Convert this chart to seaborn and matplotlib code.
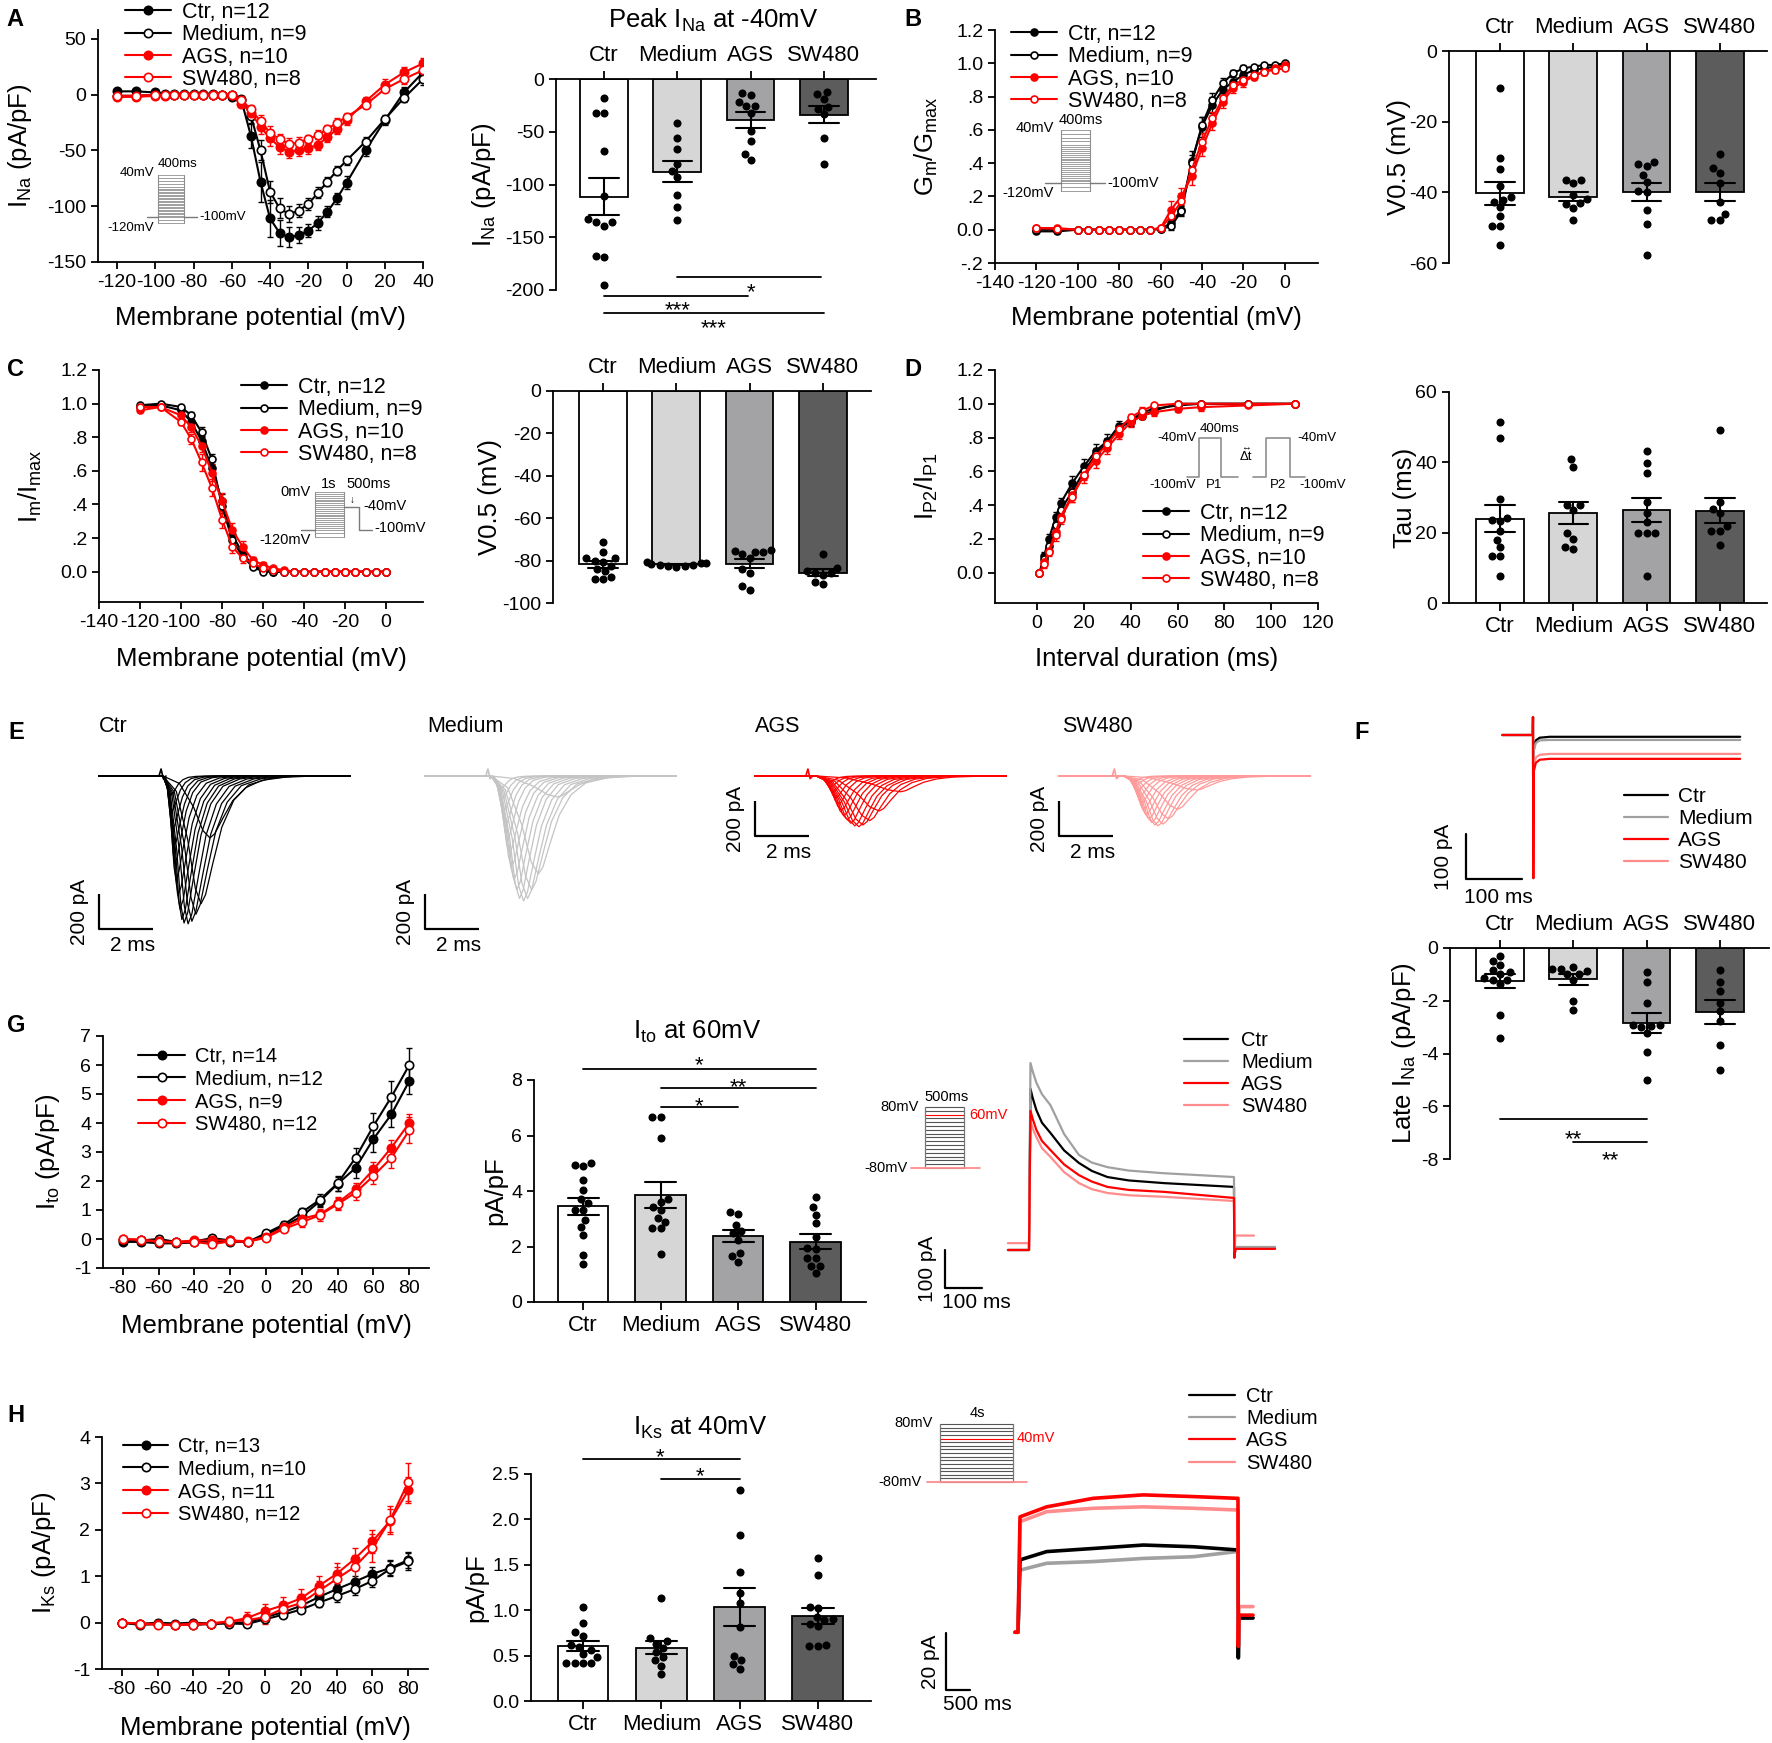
import numpy as np
import pandas as pd
import matplotlib
matplotlib.use("Agg")
import matplotlib.pyplot as plt
import seaborn as sns
from matplotlib.lines import Line2D
from matplotlib.transforms import blended_transform_factory

W, H = 1772, 1743

groups = ["Ctr", "Medium", "AGS", "SW480"]
bar_colors = ["#ffffff", "#d6d6d6", "#a3a3a6", "#5c5c5c"]
line_colors = {"Ctr": "black", "Medium": "black", "AGS": "#ff0000", "SW480": "#ff0000"}
marker_faces = {"Ctr": "black", "Medium": "white", "AGS": "#ff0000", "SW480": "white"}
trace_colors = {"Ctr": "black", "Medium": "#a0a0a0", "AGS": "#ff0000", "SW480": "#ff8c8c"}
E_colors = {"Ctr": "black", "Medium": "#c4c4c4", "AGS": "#ff0000", "SW480": "#ff9a9a"}

# ---------------- A: Na current I-V ----------------
A_v = [-120, -110, -100, -95, -90, -85, -80, -75, -70, -65, -60, -55, -50, -45,
       -40, -35, -30, -25, -20, -15, -10, -5, 0, 10, 20, 30, 40]
A_ctr = [3, 3, 2, 1, 1, 1, 1, 1, 1, 0, -2, -5, -37, -78, -111, -124, -128, -126,
         -122, -115, -105, -93, -79, -50, -23, 2, 20]
A_ctr_se = [2, 2, 1, 1, 1, 1, 1, 1, 1, 1, 2, 4, 11, 18, 17, 12, 9, 7, 6, 6, 5, 5, 6, 5, 4, 5, 5]
A_med = [-1, -1, 0, 0, 0, 0, 0, 0, 0, 0, 0, -4, -19, -50, -87, -102, -107, -104,
         -98, -88, -78, -68, -59, -42, -22, -3, 14]
A_med_se = [1, 1, 1, 1, 1, 1, 1, 1, 1, 1, 1, 3, 6, 9, 10, 9, 7, 6, 5, 5, 4, 4, 4, 4, 4, 4, 5]
A_ags = [-2, -2, -1, -1, 0, 0, 0, 0, 0, 0, 0, -8, -16, -29, -39, -47, -51, -50,
         -48, -45, -38, -31, -23, -6, 9, 20, 28]
A_ags_se = [1, 1, 1, 1, 1, 1, 1, 1, 1, 1, 1, 3, 4, 6, 7, 6, 6, 5, 5, 5, 4, 4, 4, 4, 5, 5, 5]
A_sw = [-1, -1, 0, 0, 0, 0, 0, 0, 0, 0, 0, -5, -13, -24, -34, -40, -44, -43,
        -40, -36, -31, -25, -20, -9, 5, 14, 22]
A_sw_se = [1, 1, 1, 1, 1, 1, 1, 1, 1, 1, 1, 3, 4, 6, 6, 5, 5, 5, 4, 4, 4, 4, 4, 3, 3, 4, 4]

peak_ctr = [-18, -32, -32, -68, -111, -133, -136, -136, -139, -168, -169, -195]
peak_med = [-42, -56, -66, -81, -87, -93, -110, -121, -134]
peak_ags = [-13, -15, -21.5, -25.5, -25.5, -32, -49, -59, -71, -77]
peak_sw = [-12, -14.5, -19, -26.5, -28, -33, -55.5, -81]

# ---------------- B: activation ----------------
B_v = [-120, -110, -100, -95, -90, -85, -80, -75, -70, -65, -60, -55, -50, -45,
       -40, -35, -30, -25, -20, -15, -10, -5, 0]
B_ctr = [-0.01, -0.01, 0, 0, 0, 0, 0, 0, 0, 0, 0.005, 0.04, 0.12, 0.41, 0.62, 0.75,
         0.84, 0.89, 0.93, 0.96, 0.97, 0.98, 0.99]
B_med = [0, 0, 0, 0, 0, 0, 0, 0, 0, 0, 0.005, 0.02, 0.11, 0.40, 0.63, 0.78, 0.88,
         0.94, 0.97, 0.98, 0.99, 0.99, 1.0]
B_ags = [0.01, 0.01, 0, 0, 0, 0, 0, 0, 0, 0, 0.01, 0.12, 0.20, 0.32, 0.49, 0.64,
         0.77, 0.85, 0.89, 0.92, 0.95, 0.97, 0.99]
B_sw = [0.01, 0.005, 0, 0, 0, 0, 0, 0, 0, 0, 0.01, 0.08, 0.17, 0.36, 0.53, 0.67,
        0.79, 0.87, 0.90, 0.93, 0.95, 0.96, 0.97]
B_ctr_se = [0.01, 0.01, 0.01, 0.01, 0.01, 0.01, 0.01, 0.01, 0.01, 0.01, 0.01, 0.02,
            0.03, 0.06, 0.06, 0.05, 0.04, 0.03, 0.02, 0.02, 0.01, 0.01, 0.01]
B_med_se = [0.01, 0.01, 0.01, 0.01, 0.01, 0.01, 0.01, 0.01, 0.01, 0.01, 0.01, 0.02,
            0.03, 0.05, 0.05, 0.04, 0.03, 0.02, 0.02, 0.01, 0.01, 0.01, 0.01]
B_ags_se = [0.01, 0.01, 0.01, 0.01, 0.01, 0.01, 0.01, 0.01, 0.01, 0.01, 0.01, 0.05,
            0.05, 0.05, 0.05, 0.04, 0.04, 0.03, 0.03, 0.02, 0.02, 0.02, 0.01]
B_sw_se = [0.01, 0.01, 0.01, 0.01, 0.01, 0.01, 0.01, 0.01, 0.01, 0.01, 0.01, 0.04,
           0.05, 0.05, 0.05, 0.04, 0.03, 0.03, 0.03, 0.02, 0.02, 0.02, 0.01]

v05B_ctr = [-10.5, -30.4, -33.4, -38.3, -41.3, -42.1, -42.6, -44.2, -46.8, -49.6, -49.6, -54.8]
v05B_med = [-36.4, -36.4, -37.4, -40.7, -42.0, -43.0, -43.2, -44.5, -47.7]
v05B_ags = [-31.5, -32.0, -32.5, -35.0, -37.0, -39.5, -40.0, -45.0, -49.0, -57.6]
v05B_sw = [-29.2, -33.1, -34.4, -37.4, -42.6, -46.0, -47.9, -47.9]

# ---------------- C: inactivation ----------------
C_v = [-120, -110, -100, -95, -90, -85, -80, -75, -70, -65, -60, -55, -50, -45,
       -40, -35, -30, -25, -20, -15, -10, -5, 0]
C_ctr = [0.98, 0.99, 0.96, 0.89, 0.78, 0.62, 0.42, 0.22, 0.11, 0.04, 0.01, 0, 0, 0,
         0, 0, 0, 0, 0, 0, 0, 0, 0]
C_med = [0.99, 1.0, 0.98, 0.93, 0.83, 0.67, 0.39, 0.19, 0.09, 0.03, 0, 0, 0, 0,
         0, 0, 0, 0, 0, 0, 0, 0, 0]
C_ags = [0.96, 0.98, 0.93, 0.86, 0.75, 0.59, 0.42, 0.25, 0.15, 0.07, 0.04, 0.02,
         0.01, 0, 0, 0, 0, 0, 0, 0, 0, 0, 0]
C_sw = [0.98, 0.98, 0.89, 0.79, 0.65, 0.50, 0.31, 0.15, 0.08, 0.05, 0.02, 0.01,
        0, 0, 0, 0, 0, 0, 0, 0, 0, 0, 0]
C_ctr_se = [0.01, 0.01, 0.01, 0.02, 0.03, 0.04, 0.04, 0.03, 0.02, 0.01, 0.01, 0.01,
            0, 0, 0, 0, 0, 0, 0, 0, 0, 0, 0]
C_med_se = [0.01, 0.01, 0.01, 0.02, 0.03, 0.03, 0.04, 0.03, 0.02, 0.01, 0.01, 0.01,
            0, 0, 0, 0, 0, 0, 0, 0, 0, 0, 0]
C_ags_se = [0.01, 0.01, 0.02, 0.03, 0.04, 0.05, 0.05, 0.04, 0.03, 0.02, 0.02, 0.01,
            0.01, 0, 0, 0, 0, 0, 0, 0, 0, 0, 0]
C_sw_se = [0.01, 0.01, 0.02, 0.03, 0.05, 0.05, 0.05, 0.04, 0.03, 0.02, 0.01, 0.01,
           0, 0, 0, 0, 0, 0, 0, 0, 0, 0, 0]

v05C_ctr = [-71, -76, -79, -79, -80, -80.5, -82.5, -84, -85, -87.5, -88.7, -88.7]
v05C_med = [-80.5, -81, -81, -81.5, -82, -82, -82.5, -82.5, -83]
v05C_ags = [-75, -75.5, -76, -76, -77, -79, -84, -86, -92, -94]
v05C_sw = [-77, -83.5, -85, -86, -86, -87, -90, -91]

# ---------------- D: recovery ----------------
D_t = [1, 3, 5, 8, 10, 15, 20, 25, 30, 35, 40, 45, 50, 60, 70, 90, 110]
D_ctr = [0.0, 0.10, 0.20, 0.33, 0.41, 0.53, 0.63, 0.72, 0.78, 0.87, 0.90, 0.93,
         0.96, 1.0, 1.0, 1.0, 1.0]
D_med = [0.0, 0.08, 0.16, 0.28, 0.37, 0.48, 0.60, 0.70, 0.77, 0.85, 0.90, 0.95,
         0.97, 0.99, 1.0, 1.0, 1.0]
D_ags = [0.0, 0.06, 0.13, 0.24, 0.33, 0.46, 0.57, 0.66, 0.74, 0.82, 0.89, 0.93,
         0.95, 0.97, 0.98, 0.99, 1.0]
D_sw = [0.0, 0.05, 0.12, 0.22, 0.32, 0.45, 0.58, 0.69, 0.76, 0.85, 0.92, 0.96,
        0.99, 1.0, 1.0, 1.0, 1.0]
D_ctr_se = [0, 0.02, 0.03, 0.03, 0.03, 0.04, 0.04, 0.04, 0.04, 0.03, 0.03, 0.02,
            0.02, 0.01, 0.01, 0.01, 0.01]
D_med_se = [0, 0.02, 0.02, 0.03, 0.03, 0.04, 0.04, 0.04, 0.03, 0.03, 0.03, 0.02,
            0.02, 0.01, 0.01, 0.01, 0.01]
D_ags_se = [0, 0.02, 0.02, 0.03, 0.03, 0.04, 0.04, 0.04, 0.04, 0.03, 0.03, 0.02,
            0.02, 0.02, 0.02, 0.01, 0.01]
D_sw_se = [0, 0.02, 0.02, 0.03, 0.03, 0.03, 0.03, 0.03, 0.03, 0.03, 0.02, 0.02,
           0.01, 0.01, 0.01, 0.01, 0.01]

tau_ctr = [51.5, 47, 29.5, 24.3, 23.6, 23.2, 20.6, 18, 15.9, 13.4, 13.4, 7.6]
tau_med = [41, 38.8, 27.9, 27.9, 26.5, 19.8, 18.2, 16, 15.3]
tau_ags = [43.2, 39.9, 36.9, 28.6, 25.5, 23, 20, 20, 20, 7.8]
tau_sw = [49.1, 28.6, 26.7, 25.5, 22, 20.6, 20.6, 16.4]

# ---------------- E: raw Na current families (peak time ms, peak pA, decay width) ----
E_onset = {"Ctr": 2.37, "Medium": 2.45, "AGS": 2.27, "SW480": 2.4}
E_artifact = {"Ctr": 2.3, "Medium": 2.33, "AGS": 1.96, "SW480": 2.05}
E_ctr_ms = [4.11, 3.78, 3.59, 3.44, 3.3, 3.15, 3.07, 3.0, 2.93, 2.85, 2.81, 2.78, 2.74, 2.7, 2.67]
E_ctr_pA = [-354, -730, -790, -830, -845, -840, -820, -760, -680, -590, -500, -400, -300, -200, -110]
E_med_ms = [4.9, 4.2, 3.95, 3.8, 3.65, 3.5, 3.4, 3.3, 3.2, 3.12, 3.05, 2.98, 2.92, 2.87, 2.82]
E_med_pA = [-120, -560, -650, -700, -714, -700, -650, -590, -520, -440, -360, -280, -200, -130, -70]
E_ags_ms = [5.4, 4.6, 4.25, 4.0, 3.85, 3.7, 3.55, 3.42, 3.3, 3.2, 3.1, 3.0, 2.9, 2.82, 2.75]
E_ags_pA = [-90, -200, -255, -280, -290, -285, -270, -250, -225, -195, -160, -125, -90, -60, -35]
E_sw_ms = [5.1, 4.4, 4.05, 3.85, 3.67, 3.55, 3.43, 3.33, 3.23, 3.14, 3.06, 2.98, 2.9, 2.83, 2.77]
E_sw_pA = [-80, -190, -245, -275, -285, -280, -265, -245, -220, -190, -155, -120, -85, -55, -30]
E_width = [1.2, 1.1, 1.05, 1.0, 0.95, 0.9, 0.85, 0.8, 0.75, 0.7, 0.6, 0.55, 0.5, 0.45, 0.4]
E_rise_frac = [0.0, 0.35, 0.65, 0.85, 1.0]
E_rise_amp = [0.0, 0.12, 0.5, 0.88, 1.0]
E_decay_ms = [0.15, 0.4, 0.7, 1.1, 1.6, 2.3, 3.2]
E_decay_amp = [0.93, 0.68, 0.4, 0.19, 0.07, 0.02, 0.0]
E_len_ms = 9.3

# ---------------- F: late Na current ----------------
F_t = [-55, -0.5, 0, 0.5, 1.5, 5, 12, 30, 370]
F_ctr = [0, 0, 40, -318, -30, -12, -6, -4, -4]
F_med = [0, 0, 40, -318, -35, -18, -12, -11, -11]
F_ags = [0, 0, 40, -318, -80, -62, -55, -53, -53]
F_sw = [0, 0, 40, -318, -70, -50, -44, -42, -42]

late_ctr = [-0.29, -0.48, -0.63, -0.82, -0.91, -1.0, -1.15, -1.2, -1.2, -1.35, -2.53, -3.41]
late_med = [-0.73, -0.8, -0.8, -0.88, -0.97, -1.0, -1.2, -2.02, -2.34]
late_ags = [-0.91, -1.29, -2.09, -2.91, -2.91, -2.97, -3.0, -3.22, -3.96, -5.02]
late_sw = [-0.85, -1.3, -1.62, -2.09, -2.4, -2.78, -3.67, -4.64]

# ---------------- G: Ito ----------------
G_v = [-80, -70, -60, -50, -40, -30, -20, -10, 0, 10, 20, 30, 40, 50, 60, 70, 80]
G_ctr = [-0.1, -0.1, -0.15, -0.15, -0.12, -0.08, -0.1, -0.1, 0.15, 0.45, 0.78, 1.3,
         1.9, 2.45, 3.45, 4.3, 5.45]
G_med = [-0.05, -0.05, 0.0, -0.1, -0.08, 0.03, -0.05, -0.1, 0.2, 0.5, 0.92, 1.35,
         1.92, 2.8, 3.9, 4.9, 6.0]
G_ags = [0.0, -0.02, -0.08, -0.1, -0.05, -0.05, -0.05, -0.08, 0.08, 0.4, 0.7, 0.85,
         1.25, 1.72, 2.4, 3.15, 4.0]
G_sw = [0.0, -0.03, -0.1, -0.12, -0.1, -0.18, -0.08, -0.1, 0.05, 0.35, 0.58, 0.82,
        1.2, 1.6, 2.18, 2.8, 3.75]
G_ctr_se = [0.08, 0.08, 0.1, 0.1, 0.1, 0.1, 0.1, 0.1, 0.1, 0.1, 0.15, 0.2, 0.25,
            0.35, 0.45, 0.45, 0.45]
G_med_se = [0.08, 0.08, 0.1, 0.1, 0.1, 0.1, 0.1, 0.1, 0.1, 0.12, 0.15, 0.2, 0.25,
            0.35, 0.45, 0.55, 0.6]
G_ags_se = [0.05, 0.05, 0.08, 0.08, 0.08, 0.08, 0.08, 0.08, 0.08, 0.1, 0.12, 0.15,
            0.2, 0.2, 0.25, 0.25, 0.3]
G_sw_se = [0.05, 0.05, 0.08, 0.08, 0.08, 0.1, 0.08, 0.08, 0.08, 0.1, 0.15, 0.2,
           0.2, 0.25, 0.3, 0.35, 0.45]

ito_ctr = [5.0, 4.95, 4.9, 4.4, 4.05, 3.72, 3.55, 3.32, 3.32, 2.96, 2.7, 2.42, 1.7, 1.37]
ito_med = [6.65, 6.65, 5.9, 3.72, 3.6, 3.44, 3.3, 3.02, 2.9, 2.66, 2.66, 1.73]
ito_ags = [3.24, 3.18, 2.78, 2.55, 2.48, 2.24, 1.76, 1.64, 1.44]
ito_sw = [3.78, 3.42, 3.14, 2.84, 2.36, 1.9, 1.94, 1.58, 1.58, 1.28, 1.28, 1.04]

Gtr_t = [-57, -1, 0, 4, 10, 20, 35, 58, 95, 135, 170, 212, 270, 365, 554, 555, 558, 608, 609, 665]
Gtr_ctr = [0, 0, 0, 424, 400, 368, 335, 308, 262, 229, 208, 192, 183, 176, 166, -20, 5, 5, 5, 5]
Gtr_med = [0, 0, 0, 492, 470, 440, 410, 381, 305, 250, 230, 218, 209, 202, 192, -20, 8, 8, 8, 8]
Gtr_ags = [0, 0, 0, 366, 345, 316, 287, 263, 225, 197, 180, 166, 158, 153, 137, -20, 3, 3, 3, 3]
Gtr_sw = [18, 18, 0, 342, 320, 297, 268, 245, 205, 176, 160, 150, 144, 140, 129, -15, 38, 38,
          np.nan, np.nan]

# ---------------- H: IKs ----------------
H_v = [-80, -70, -60, -50, -40, -30, -20, -10, 0, 10, 20, 30, 40, 50, 60, 70, 80]
H_ctr = [0.0, -0.03, 0.0, -0.02, 0.0, -0.02, 0.0, 0.0, 0.12, 0.22, 0.36, 0.55, 0.72,
         0.88, 1.05, 1.18, 1.35]
H_med = [0.0, -0.05, -0.03, -0.05, -0.05, -0.03, -0.02, -0.03, 0.07, 0.17, 0.28,
         0.43, 0.57, 0.72, 0.9, 1.16, 1.32]
H_ags = [0.0, -0.02, -0.03, -0.05, -0.02, -0.02, 0.02, 0.1, 0.25, 0.37, 0.52, 0.79,
         1.05, 1.37, 1.75, 2.2, 2.85]
H_sw = [0.0, -0.02, -0.05, -0.05, -0.05, -0.02, 0.03, 0.05, 0.12, 0.3, 0.42, 0.68,
        0.94, 1.2, 1.6, 2.22, 3.03]
H_ctr_se = [0.02, 0.05, 0.05, 0.05, 0.05, 0.05, 0.05, 0.05, 0.05, 0.07, 0.08, 0.1,
            0.12, 0.13, 0.15, 0.16, 0.17]
H_med_se = [0.02, 0.05, 0.05, 0.05, 0.05, 0.05, 0.05, 0.05, 0.05, 0.07, 0.08, 0.1,
            0.12, 0.13, 0.14, 0.16, 0.18]
H_ags_se = [0.02, 0.05, 0.05, 0.05, 0.05, 0.05, 0.08, 0.12, 0.15, 0.18, 0.2, 0.22,
            0.24, 0.24, 0.25, 0.25, 0.28]
H_sw_se = [0.02, 0.05, 0.05, 0.05, 0.05, 0.05, 0.08, 0.12, 0.15, 0.15, 0.2, 0.22,
           0.25, 0.25, 0.3, 0.3, 0.4]

iks_ctr = [1.03, 0.86, 0.76, 0.72, 0.62, 0.6, 0.56, 0.52, 0.49, 0.42, 0.42, 0.42, 0.42]
iks_med = [1.13, 0.69, 0.66, 0.63, 0.58, 0.54, 0.49, 0.45, 0.39, 0.3]
iks_ags = [2.32, 1.83, 1.42, 1.19, 1.08, 0.82, 0.5, 0.45, 0.41, 0.35]
iks_sw = [1.57, 1.39, 1.04, 1.02, 0.93, 0.9, 0.89, 0.85, 0.83, 0.62, 0.61, 0.61]

Htr_t = [-62, -1, 0, 42, 597, 1569, 2611, 3653, 4556, 4583, 4590, 4600, 4896]
Htr_ctr = [-5, -5, -5, 20.4, 23.3, 24.4, 25.6, 25.0, 23.9, 23.9, -14, 0, 0]
Htr_med = [-5, -5, -5, 16.8, 19.2, 19.8, 20.9, 21.5, 23.3, 23.3, -14, 0, 0]
Htr_ags = [-5, -5, -5, 35.5, 39.0, 42.0, 43.2, 42.6, 42.0, 42.0, -10, 1, 1]
Htr_sw = [-5, -5, -5, 33.8, 37.3, 38.5, 39.0, 38.5, 37.9, 37.9, -8, 4, 4]

labels_na = ["Ctr, n=12", "Medium, n=9", "AGS, n=10", "SW480, n=8"]
labels_ito = ["Ctr, n=14", "Medium, n=12", "AGS, n=9", "SW480, n=12"]
labels_iks = ["Ctr, n=13", "Medium, n=10", "AGS, n=11", "SW480, n=12"]

# ---------------- style ----------------
sns.set_theme(style="ticks")
plt.rcParams["font.family"] = ["Liberation Sans", "DejaVu Sans"]
plt.rcParams.update({
    "mathtext.fontset": "custom",
    "mathtext.rm": "Liberation Sans",
    "mathtext.it": "Liberation Sans",
    "mathtext.default": "regular",
    "axes.unicode_minus": False,
    "axes.edgecolor": "black",
    "axes.linewidth": 1.3,
    "xtick.color": "black",
    "ytick.color": "black",
    "xtick.major.width": 1.3,
    "ytick.major.width": 1.3,
    "xtick.major.size": 5,
    "ytick.major.size": 5,
    "xtick.labelsize": 14,
    "ytick.labelsize": 14,
    "axes.labelsize": 18,
    "text.color": "black",
    "axes.labelcolor": "black",
})

fig = plt.figure(figsize=(W / 100, H / 100), dpi=100)


def px_axes(l, t, r, b):
    return fig.add_axes([l / W, 1 - b / H, (r - l) / W, (b - t) / H])


def scaled_axes(l, t, r, b, x0px, xppu, y0px, yppu, xa=0, ya=0):
    ax = px_axes(l, t, r, b)
    ax.set_xlim(xa + (l - x0px) / xppu, xa + (r - x0px) / xppu)
    ax.set_ylim(ya - (b - y0px) / yppu, ya + (y0px - t) / yppu)
    ax.axis("off")
    return ax


def ftext(x, y, s, **kw):
    fig.text(x / W, 1 - y / H, s, **kw)


def ylab(ax, s, x_px):
    # x_px = right edge of the rotated label
    ax.set_ylabel(s, fontsize=18.5)
    ax.yaxis.set_label_coords(x_px / W, 0.5, transform=blended_transform_factory(fig.transFigure, ax.transAxes))


def xlab(ax, s, y_px):
    ax.set_xlabel(s, fontsize=18.5)
    ax.xaxis.set_label_coords(0.5, 1 - y_px / H, transform=blended_transform_factory(ax.transAxes, fig.transFigure))


def place_legend(ax, handles, labels, x_px, y_px, fs=15.5, hl=2.15, ls=0.06, tp=0.5):
    ax.legend(handles, labels, loc="upper left", bbox_to_anchor=(x_px / W, 1 - y_px / H),
              bbox_transform=fig.transFigure, frameon=False, fontsize=fs, handlelength=hl,
              handletextpad=tp, labelspacing=ls, borderpad=0, borderaxespad=0)


def iv_plot(ax, x, ys, ses, labels, ms=6):
    for g, lab in zip(groups, labels):
        c = line_colors[g]
        ax.errorbar(x, ys[g], yerr=ses[g], fmt="none", ecolor=c, elinewidth=1,
                    capsize=2.5, capthick=1, zorder=2)
        sns.lineplot(x=x, y=ys[g], ax=ax, color=c, linewidth=1.5, marker="o",
                     markersize=ms, markerfacecolor=marker_faces[g], markeredgecolor=c,
                     markeredgewidth=1.2, label=lab, zorder=3)
    sns.despine(ax=ax)
    h, l = ax.get_legend_handles_labels()
    return h, l


def bar_plot(ax, values, box, cat0_px, step_px, top=False, dot=5.8):
    l, t, r, b = box
    df = pd.DataFrame({"group": [g for g in groups for _ in values[g]],
                       "value": [v for g in groups for v in values[g]]})
    sns.barplot(data=df, x="group", y="value", hue="group", order=groups, hue_order=groups,
                palette=dict(zip(groups, bar_colors)), legend=False, errorbar="se",
                capsize=0.4, width=0.65, edgecolor="black", linewidth=1.3,
                err_kws={"color": "black", "linewidth": 1.5}, ax=ax)
    sns.swarmplot(data=df, x="group", y="value", order=groups, color="black", size=dot, ax=ax)
    ax.set_xlim((l - cat0_px) / step_px, (r - cat0_px) / step_px)
    ax.set_xlabel("")
    ax.tick_params(axis="x", labelsize=16, length=6)
    if top:
        ax.xaxis.tick_top()
        ax.spines["bottom"].set_visible(False)
        ax.spines["right"].set_visible(False)
    else:
        sns.despine(ax=ax)


def sig(ax, x0, x1, y, stars, xs, ys):
    ax.plot([x0, x1], [y, y], color="black", lw=1.3, clip_on=False)
    ax.annotate(stars, xy=(xs, ys), xytext=(0, -9.3), textcoords="offset points",
                ha="center", va="baseline", fontsize=16, annotation_clip=False)


dec_frac = ["-.2", "0.0", ".2", ".4", ".6", ".8", "1.0", "1.2"]

# ================= A =================
axA = px_axes(98, 30, 423, 262)
h, l = iv_plot(axA, A_v, {"Ctr": A_ctr, "Medium": A_med, "AGS": A_ags, "SW480": A_sw},
               {"Ctr": A_ctr_se, "Medium": A_med_se, "AGS": A_ags_se, "SW480": A_sw_se}, labels_na)
axA.set_xlim(-130, 40)
axA.set_ylim(-150, 58)
axA.set_xticks(range(-120, 41, 20))
axA.set_yticks([-150, -100, -50, 0, 50])
place_legend(axA, h, l, 125, 2)
ylab(axA, "I$_{Na}$ (pA/pF)", 34)
xlab(axA, "Membrane potential (mV)", 306)

pA = scaled_axes(130, 160, 215, 240, 158, 26 / 400, 175, 0.3, ya=40)
for v in A_v:
    pA.plot([0, 400], [v, v], color="#8f8f8f", lw=0.6)
pA.plot([0, 0], [-120, 40], color="#8f8f8f", lw=0.8)
pA.plot([400, 400], [-120, 40], color="#8f8f8f", lw=0.8)
pA.plot([-170, 0], [-100, -100], color="#7a7a7a", lw=1)
pA.plot([400, 600], [-100, -100], color="#7a7a7a", lw=1)
pA.text(-60, 46, "40mV", ha="right", va="center", fontsize=9.5)
pA.text(0, 58, "400ms", ha="left", va="bottom", fontsize=9.5)
pA.text(-60, -137, "-120mV", ha="right", va="center", fontsize=9.5)
pA.text(630, -100, "-100mV", ha="left", va="center", fontsize=9.5)

boxA2 = (556, 79, 876, 290)
axA2 = px_axes(*boxA2)
bar_plot(axA2, {"Ctr": peak_ctr, "Medium": peak_med, "AGS": peak_ags, "SW480": peak_sw},
         boxA2, 604, 73.3, top=True)
axA2.set_ylim(-200, 0)
axA2.set_yticks([-200, -150, -100, -50, 0])
ylab(axA2, "I$_{Na}$ (pA/pF)", 498)
ftext(713, 20, "Peak I$_{Na}$ at -40mV", ha="center", va="center", fontsize=18.5)
sig(axA2, 1.0, 2.96, -187.7, "*", 2.0, -195.3)
sig(axA2, 0, 1.96, -205.7, "***", 1.0, -212.3)
sig(axA2, 0, 3.0, -221.8, "***", 1.5, -229.4)

# ================= B =================
axB = px_axes(995, 30, 1318, 263)
h, l = iv_plot(axB, B_v, {"Ctr": B_ctr, "Medium": B_med, "AGS": B_ags, "SW480": B_sw},
               {"Ctr": B_ctr_se, "Medium": B_med_se, "AGS": B_ags_se, "SW480": B_sw_se}, labels_na, ms=5)
axB.set_xlim(-140, 16)
axB.set_ylim(-0.2, 1.2)
axB.set_xticks(range(-140, 1, 20))
axB.set_yticks([-0.2, 0, 0.2, 0.4, 0.6, 0.8, 1.0, 1.2])
axB.set_yticklabels(dec_frac)
place_legend(axB, h, l, 1011, 24)
ylab(axB, "G$_m$/G$_{max}$", 940)
xlab(axB, "Membrane potential (mV)", 306)

pB = scaled_axes(1030, 110, 1110, 200, 1061, 29 / 400, 130, 0.381, ya=40)
for v in B_v + [10, 20, 30, 40]:
    pB.plot([0, 400], [v, v], color="#8f8f8f", lw=0.6)
pB.plot([0, 0], [-120, 40], color="#8f8f8f", lw=0.8)
pB.plot([400, 400], [-120, 40], color="#8f8f8f", lw=0.8)
pB.plot([-221, 0], [-100, -100], color="#7a7a7a", lw=1)
pB.plot([400, 600], [-100, -100], color="#7a7a7a", lw=1)
pB.text(-103, 45, "40mV", ha="right", va="center", fontsize=10.5)
pB.text(-28, 48, "400ms", ha="left", va="bottom", fontsize=10.5)
pB.text(-103, -125, "-120mV", ha="right", va="center", fontsize=10.5)
pB.text(638, -100, "-100mV", ha="left", va="center", fontsize=10.5)

boxB2 = (1449, 51, 1767, 263)
axB2 = px_axes(*boxB2)
bar_plot(axB2, {"Ctr": v05B_ctr, "Medium": v05B_med, "AGS": v05B_ags, "SW480": v05B_sw},
         boxB2, 1500, 73.3, top=True)
axB2.set_ylim(-60, 0)
axB2.set_yticks([-60, -40, -20, 0])
ylab(axB2, "V0.5 (mV)", 1411)

# ================= C =================
axC = px_axes(99, 370, 423, 602)
h, l = iv_plot(axC, C_v, {"Ctr": C_ctr, "Medium": C_med, "AGS": C_ags, "SW480": C_sw},
               {"Ctr": C_ctr_se, "Medium": C_med_se, "AGS": C_ags_se, "SW480": C_sw_se}, labels_na, ms=5)
axC.set_xlim(-140, 18)
axC.set_ylim(-0.18, 1.2)
axC.set_xticks(range(-140, 1, 20))
axC.set_yticks([0, 0.2, 0.4, 0.6, 0.8, 1.0, 1.2])
axC.set_yticklabels(dec_frac[1:])
place_legend(axC, h, l, 241, 377)
ylab(axC, "I$_m$/I$_{max}$", 44)
xlab(axC, "Membrane potential (mV)", 647)

pC = scaled_axes(280, 470, 400, 550, 315, 0.029, 492, 0.375)
for v in C_v:
    pC.plot([0, 1000], [v, v], color="#8f8f8f", lw=0.6)
pC.plot([0, 0], [-120, 0], color="#8f8f8f", lw=0.8)
pC.plot([1000, 1000], [-120, 0], color="#8f8f8f", lw=0.8)
pC.plot([-483, 0], [-100, -100], color="#7a7a7a", lw=1)
pC.plot([1000, 1500, 1500, 1966], [-40, -40, -100, -100], color="#7a7a7a", lw=1)
pC.text(-138, 0, "0mV", ha="right", va="center", fontsize=10.5)
pC.text(483, 21, "1s", ha="center", va="center", fontsize=10.5)
pC.text(1069, 21, "500ms", ha="left", va="center", fontsize=10.5)
pC.text(1276, -21, "\u2193", ha="center", va="center", fontsize=7)
pC.text(1655, -37, "-40mV", ha="left", va="center", fontsize=10.5)
pC.text(2055, -96, "-100mV", ha="left", va="center", fontsize=10.5)
pC.text(-138, -128, "-120mV", ha="right", va="center", fontsize=10.5)

boxC2 = (553, 391, 871, 603)
axC2 = px_axes(*boxC2)
bar_plot(axC2, {"Ctr": v05C_ctr, "Medium": v05C_med, "AGS": v05C_ags, "SW480": v05C_sw},
         boxC2, 603, 73.3, top=True)
axC2.set_ylim(-100, 0)
axC2.set_yticks([-100, -80, -60, -40, -20, 0])
ylab(axC2, "V0.5 (mV)", 502)

# ================= D =================
axD = px_axes(995, 370, 1318, 603)
h, l = iv_plot(axD, D_t, {"Ctr": D_ctr, "Medium": D_med, "AGS": D_ags, "SW480": D_sw},
               {"Ctr": D_ctr_se, "Medium": D_med_se, "AGS": D_ags_se, "SW480": D_sw_se}, labels_na, ms=5)
axD.set_xlim(-18, 120)
axD.set_ylim(-0.18, 1.2)
axD.set_xticks(range(0, 121, 20))
axD.set_yticks([0, 0.2, 0.4, 0.6, 0.8, 1.0, 1.2])
axD.set_yticklabels(dec_frac[1:])
place_legend(axD, h, l, 1143, 503)
ylab(axD, "I$_{P2}$/I$_{P1}$", 940)
xlab(axD, "Interval duration (ms)", 647)

D_proto_t = [-204, 0, 0, 400, 400, 702, np.nan, 961, 1194, 1194, 1618, 1618, 1900]
D_proto_v = [-100, -100, -40, -40, -100, -100, np.nan, -100, -100, -40, -40, -100, -100]
pD = scaled_axes(1150, 415, 1350, 495, 1198.5, 0.0563, 438, 0.65, ya=-40)
pD.plot(D_proto_t, D_proto_v, color="#8f8f8f", lw=1.2)
pD.text(-44, -40, "-40mV", ha="right", va="center", fontsize=9.5)
pD.text(380, -26, "400ms", ha="center", va="center", fontsize=9.5)
pD.text(840, -54, "\u2194", ha="center", va="center", fontsize=7)
pD.text(840, -69, "\u0394t", ha="center", va="center", fontsize=9.5)
pD.text(1750, -40, "-40mV", ha="left", va="center", fontsize=9.5)
pD.text(-44, -113, "-100mV", ha="right", va="center", fontsize=9.5)
pD.text(277, -113, "P1", ha="center", va="center", fontsize=9.5)
pD.text(1412, -113, "P2", ha="center", va="center", fontsize=9.5)
pD.text(1786, -113, "-100mV", ha="left", va="center", fontsize=9.5)

boxD2 = (1449, 392, 1767, 603)
axD2 = px_axes(*boxD2)
bar_plot(axD2, {"Ctr": tau_ctr, "Medium": tau_med, "AGS": tau_ags, "SW480": tau_sw},
         boxD2, 1500, 73.3)
axD2.set_ylim(0, 60)
axD2.set_yticks([0, 20, 40, 60])
ylab(axD2, "Tau (ms)", 1417)

# ================= E =================
E_sets = {
    "Ctr": (E_ctr_ms, E_ctr_pA, 99, -874, -674),
    "Medium": (E_med_ms, E_med_pA, 425, -874, -674),
    "AGS": (E_ags_ms, E_ags_pA, 755, -343, -143),
    "SW480": (E_sw_ms, E_sw_pA, 1059, -343, -143),
}
E_label_x = {"Ctr": 99, "Medium": 427, "AGS": 755, "SW480": 1062}
for g, (pk_t, pk_a, x0, sb_lo, sb_hi) in E_sets.items():
    ax = scaled_axes(x0 - 40, 690, x0 + 270, 1000, x0, 27, 776, 0.175)
    on = E_onset[g]
    for tp, amp, wd in zip(pk_t, pk_a, E_width):
        tt = [0] + [on + f * (tp - on) for f in E_rise_frac] + [tp + wd * d for d in E_decay_ms] + [E_len_ms]
        vv = [0] + [amp * f for f in E_rise_amp] + [amp * f for f in E_decay_amp] + [0]
        ax.plot(tt, vv, color=E_colors[g], lw=0.9)
    a0 = E_artifact[g]
    ax.plot([a0 - 0.08, a0, a0 + 0.08, a0 + 0.18], [0, 40, -15, 0], color=E_colors[g], lw=1.2)
    ax.plot([0, 0, 2], [sb_hi, sb_lo, sb_lo], color="black", lw=1.6, solid_capstyle="butt")
    ax.text(-0.74, (sb_lo + sb_hi) / 2, "200 pA", rotation=90, ha="center", va="center", fontsize=15)
    ax.text(1.26, sb_lo - 92, "2 ms", ha="center", va="center", fontsize=15)
    ftext(E_label_x[g], 726, g, ha="left", va="center", fontsize=15.5)

# ================= F =================
axF = scaled_axes(1430, 700, 1760, 910, 1533, 0.56, 735, 0.45)
for g, vals in zip(["Ctr", "Medium", "SW480", "AGS"], [F_ctr, F_med, F_sw, F_ags]):
    axF.plot(F_t, vals, color=trace_colors[g], lw=1.6)
axF.plot([-119.6, -119.6, -19.6], [-220, -320, -320], color="black", lw=1.6)
axF.text(-159, -270, "100 pA", rotation=90, ha="center", va="center", fontsize=15)
axF.text(-123, -362, "100 ms", ha="left", va="center", fontsize=15)
hF = [Line2D([], [], color=trace_colors[g], lw=1.6) for g in groups]
place_legend(axF, hF, groups, 1624, 787, fs=15, hl=2.1, ls=0.15, tp=0.48)

boxF2 = (1450, 948, 1769, 1159)
axF2 = px_axes(*boxF2)
bar_plot(axF2, {"Ctr": late_ctr, "Medium": late_med, "AGS": late_ags, "SW480": late_sw},
         boxF2, 1500, 73.3, top=True)
axF2.set_ylim(-8, 0)
axF2.set_yticks([-8, -6, -4, -2, 0])
ylab(axF2, "Late I$_{Na}$ (pA/pF)", 1418)
sig(axF2, 0, 2.0, -6.48, "**", 1.0, -6.97)
sig(axF2, 1.0, 2.0, -7.35, "**", 1.51, -7.77)

# ================= G =================
axG = px_axes(103, 1036, 429, 1268)
h, l = iv_plot(axG, G_v, {"Ctr": G_ctr, "Medium": G_med, "AGS": G_ags, "SW480": G_sw},
               {"Ctr": G_ctr_se, "Medium": G_med_se, "AGS": G_ags_se, "SW480": G_sw_se}, labels_ito)
axG.set_xlim(-91, 91)
axG.set_ylim(-1, 7)
axG.set_xticks(range(-80, 81, 20))
axG.set_yticks(range(-1, 8))
place_legend(axG, h, l, 138, 1047, fs=14.5, hl=2.34, ls=0.175)
ylab(axG, "I$_{to}$ (pA/pF)", 62)
xlab(axG, "Membrane potential (mV)", 1314)

boxG2 = (534, 1080, 866, 1302)
axG2 = px_axes(*boxG2)
bar_plot(axG2, {"Ctr": ito_ctr, "Medium": ito_med, "AGS": ito_ags, "SW480": ito_sw},
         boxG2, 583, 77.5)
axG2.set_ylim(0, 8)
axG2.set_yticks([0, 2, 4, 6, 8])
ylab(axG2, "pA/pF", 507)
ftext(697, 1032, "I$_{to}$ at 60mV", ha="center", va="center", fontsize=18.5)
sig(axG2, 0, 3, 8.40, "*", 1.5, 8.79)
sig(axG2, 1, 3, 7.71, "**", 2.0, 8.0)
sig(axG2, 1, 2, 7.03, "*", 1.5, 7.32)

pG = scaled_axes(850, 1085, 1010, 1180, 925, 0.078, 1107, 0.381, ya=80)
for v in G_v:
    pG.plot([0, 500], [v, v], color="#ff0000" if v == 60 else "#555555", lw=0.8)
pG.plot([0, 0], [-80, 80], color="#777777", lw=0.9)
pG.plot([500, 500], [-80, 80], color="#777777", lw=0.9)
pG.plot([-179, 705], [-80, -80], color="#ff8c8c", lw=1.3)
pG.text(-81, 80, "80mV", ha="right", va="center", fontsize=10.5)
pG.text(282, 106, "500ms", ha="center", va="center", fontsize=10.5)
pG.text(564, 59, "60mV", ha="left", va="center", fontsize=10.5, color="#ff0000")
pG.text(-218, -80, "-80mV", ha="right", va="center", fontsize=10.5)

axGt = scaled_axes(900, 1040, 1290, 1320, 1029, 0.37, 1250, 0.38)
for g, vals in zip(["Ctr", "Medium", "SW480", "AGS"], [Gtr_ctr, Gtr_med, Gtr_sw, Gtr_ags]):
    axGt.plot(Gtr_t, vals, color=trace_colors[g], lw=1.6)
axGt.plot([-227, -227, -127], [0, -100, -100], color="black", lw=1.6)
axGt.text(-273, -50, "100 pA", rotation=90, ha="center", va="center", fontsize=15)
axGt.text(-235, -137, "100 ms", ha="left", va="center", fontsize=15)
place_legend(axGt, [Line2D([], [], color=trace_colors[g], lw=1.6) for g in groups], groups,
             1184, 1031, fs=14.5, hl=2.2, ls=0.155, tp=0.65)

# ================= H =================
axH = px_axes(102, 1437, 428, 1669)
h, l = iv_plot(axH, H_v, {"Ctr": H_ctr, "Medium": H_med, "AGS": H_ags, "SW480": H_sw},
               {"Ctr": H_ctr_se, "Medium": H_med_se, "AGS": H_ags_se, "SW480": H_sw_se}, labels_iks)
axH.set_xlim(-91, 91)
axH.set_ylim(-1, 4)
axH.set_xticks(range(-80, 81, 20))
axH.set_yticks(range(-1, 5))
place_legend(axH, h, l, 123, 1437, fs=14.5, hl=2.24, ls=0.175)
ylab(axH, "I$_{Ks}$ (pA/pF)", 58)
xlab(axH, "Membrane potential (mV)", 1716)

boxH2 = (531, 1474, 871, 1701)
axH2 = px_axes(*boxH2)
bar_plot(axH2, {"Ctr": iks_ctr, "Medium": iks_med, "AGS": iks_ags, "SW480": iks_sw},
         boxH2, 583, 78.3)
axH2.set_ylim(0, 2.5)
axH2.set_yticks([0, 0.5, 1.0, 1.5, 2.0, 2.5])
axH2.set_yticklabels(["0.0", "0.5", "1.0", "1.5", "2.0", "2.5"])
ylab(axH2, "pA/pF", 488)
ftext(700, 1428, "I$_{Ks}$ at 40mV", ha="center", va="center", fontsize=18.5)
sig(axH2, 0, 2, 2.665, "*", 0.98, 2.76)
sig(axH2, 1, 2, 2.445, "*", 1.5, 2.555)

pH = scaled_axes(860, 1395, 1050, 1495, 940, 0.01825, 1424, 0.3625, ya=80)
for v in H_v:
    pH.plot([0, 4000], [v, v], color="#ff0000" if v == 40 else "#555555", lw=0.8)
pH.plot([0, 0], [-80, 80], color="#777777", lw=0.9)
pH.plot([4000, 4000], [-80, 80], color="#777777", lw=0.9)
pH.plot([-712, 4767], [-80, -80], color="#ff8c8c", lw=1.3)
pH.text(-400, 83, "80mV", ha="right", va="center", fontsize=10.5)
pH.text(2027, 110, "4s", ha="center", va="center", fontsize=10.5)
pH.text(4219, 41, "40mV", ha="left", va="center", fontsize=10.5, color="#ff0000")
pH.text(-1003, -80, "-80mV", ha="right", va="center", fontsize=10.5)

axHt = scaled_axes(900, 1480, 1270, 1720, 1018, 0.048, 1618, 2.85)
for g, vals in zip(["Medium", "Ctr", "SW480", "AGS"], [Htr_med, Htr_ctr, Htr_sw, Htr_ags]):
    axHt.plot(Htr_t, vals, color=trace_colors[g], lw=2.6)
axHt.plot([-1500, -1500, -1000], [-5.3, -25.3, -25.3], color="black", lw=1.6)
axHt.text(-1833, -15.3, "20 pA", rotation=90, ha="center", va="center", fontsize=15)
axHt.text(-1560, -30.5, "500 ms", ha="left", va="center", fontsize=15)
place_legend(axHt, [Line2D([], [], color=trace_colors[g], lw=1.6) for g in groups], groups,
             1189, 1387, fs=14.5, hl=2.3, ls=0.16, tp=0.55)

# ================= panel letters =================
for s, x, y in [("A", 15, 19), ("B", 913, 19), ("C", 16, 369), ("D", 913, 369),
                ("E", 16, 732), ("F", 1362, 732), ("G", 16, 1025), ("H", 16, 1415)]:
    ftext(x, y, s, ha="center", va="center", fontsize=17, fontweight="bold")

fig.savefig("out.png", dpi=100)
